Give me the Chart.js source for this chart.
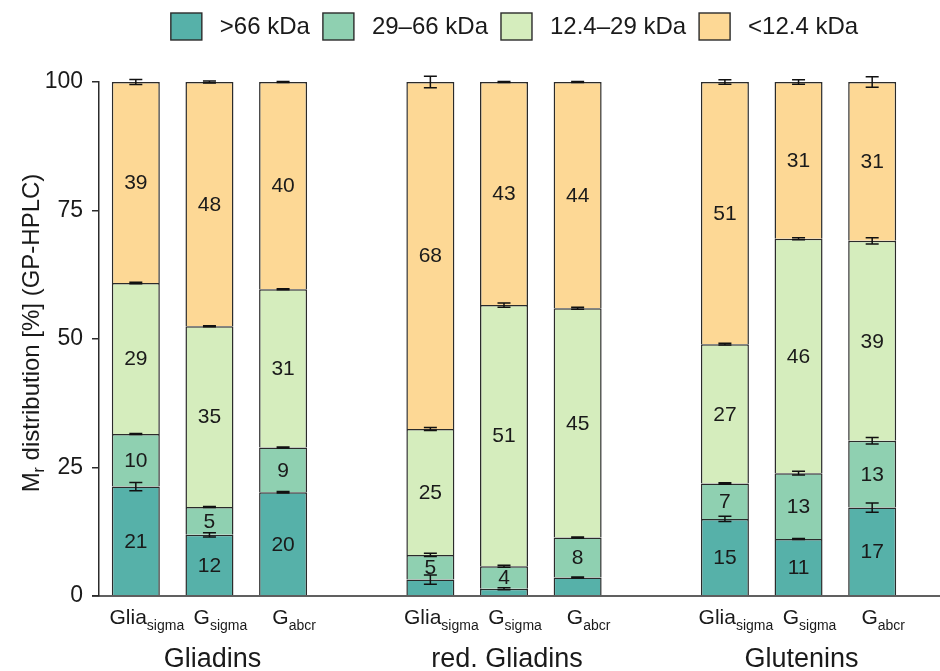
<!DOCTYPE html>
<html>
<head>
<meta charset="utf-8">
<title>Mr distribution (GP-HPLC)</title>
<script src="https://cdn.jsdelivr.net/npm/chart.js@4.4.1/dist/chart.umd.min.js"></script>
<style>
  html, body { margin: 0; padding: 0; background: #ffffff; }
  #wrap { width: 940px; height: 671px; }
</style>
</head>
<body>
<div id="wrap"><canvas id="chart" width="940" height="671"></canvas></div>
<script>
// Sample groups and the three samples within each group (name + subscript)
const groups = ['Gliadins', 'red. Gliadins', 'Glutenins'];
const sampleBase = ['Glia', 'G', 'G'];
const sampleSub = ['sigma', 'sigma', 'abcr'];

// Molecular-weight fractions (stack order, bottom to top)
const fractionNames = ['>66 kDa', '29\u201366 kDa', '12.4\u201329 kDa', '<12.4 kDa'];
const fractionColors = ['#56b1a9', '#8fd0b1', '#d5edbd', '#fdd895'];

// Share of each fraction [%], 9 samples: Gliadins x3, red. Gliadins x3, Glutenins x3
const above66 = [21.3, 11.9, 20.2, 3.2, 1.4, 3.6, 15.0, 11.1, 17.2];
const from29to66 = [10.2, 5.4, 8.7, 4.8, 4.4, 7.8, 6.9, 12.8, 13.0];
const from12to29 = [29.4, 35.2, 30.8, 24.5, 50.8, 44.6, 27.1, 45.6, 38.9];
const below12 = [39.1, 47.5, 40.3, 67.5, 43.4, 44.0, 51.0, 30.5, 30.9];

// Standard deviations of the cumulative fraction boundaries
const sdAbove66 = [0.8, 0.4, 0.15, 0.9, 0.2, 0.1, 0.5, 0.1, 0.9];
const sd29to66 = [0.1, 0.1, 0.1, 0.3, 0.2, 0.1, 0.15, 0.35, 0.65];
const sd12to29 = [0.15, 0.1, 0.1, 0.3, 0.4, 0.2, 0.15, 0.2, 0.6];
const sdBelow12 = [0.5, 0.2, 0.1, 1.1, 0.1, 0.1, 0.45, 0.45, 1.0];

// Y axis ticks
const yTicks = [0, 25, 50, 75, 100];

const fractionValues = [above66, from29to66, from12to29, below12];
const fractionSDs = [sdAbove66, sd29to66, sd12to29, sdBelow12];

// Category slots: three samples per group, one empty slot between groups
const slotSample = [];   // index into the 9 samples, or null for a spacer slot
groups.forEach((g, gi) => {
  for (let k = 0; k < 3; k++) slotSample.push(gi * 3 + k);
  if (gi < groups.length - 1) slotSample.push(null);
});
const slotLabels = slotSample.map(s => s === null ? '' : sampleBase[s % 3] + sampleSub[s % 3]);

const FONT = "'Liberation Sans', Arial, Helvetica, sans-serif";
const INK = '#1a1a1a';
const LINE = '#2b2b2b';

const datasets = fractionNames.map((name, i) => ({
  label: name,
  data: slotSample.map(s => s === null ? null : fractionValues[i][s]),
  backgroundColor: fractionColors[i],
  borderColor: LINE,
  borderWidth: 1.5,
  borderSkipped: 'start',
  barPercentage: 0.652,
  categoryPercentage: 1.0,
  stack: 'mr'
}));

const decorations = {
  id: 'decorations',
  afterDatasetsDraw(chart) {
    const ctx = chart.ctx;
    const ys = chart.scales.y;
    const area = chart.chartArea;
    const metas = chart.data.datasets.map((d, i) => chart.getDatasetMeta(i));

    ctx.save();

    // value labels inside the segments
    ctx.fillStyle = INK;
    ctx.font = '21px ' + FONT;
    ctx.textAlign = 'center';
    ctx.textBaseline = 'middle';
    metas.forEach((meta, i) => {
      meta.data.forEach((el, j) => {
        const v = chart.data.datasets[i].data[j];
        if (v === null || v < 4) return;
        ctx.fillText(String(Math.round(v)), el.x, (el.y + el.base) / 2 + 1);
      });
    });

    // error bars at each cumulative boundary
    ctx.strokeStyle = '#111111';
    ctx.lineWidth = 1.5;
    const cap = 6.5;
    slotSample.forEach((s, j) => {
      if (s === null) return;
      let cum = 0;
      for (let i = 0; i < fractionValues.length; i++) {
        cum += fractionValues[i][s];
        const sd = fractionSDs[i][s];
        const x = metas[i].data[j].x;
        const yHi = ys.getPixelForValue(cum + sd);
        const yLo = ys.getPixelForValue(cum - sd);
        ctx.beginPath();
        ctx.moveTo(x, yHi); ctx.lineTo(x, yLo);
        ctx.moveTo(x - cap, yHi); ctx.lineTo(x + cap, yHi);
        ctx.moveTo(x - cap, yLo); ctx.lineTo(x + cap, yLo);
        ctx.stroke();
      }
    });

    // x axis line, running to the right edge
    const y0 = ys.getPixelForValue(0);
    ctx.strokeStyle = LINE;
    ctx.lineWidth = 1.5;
    ctx.beginPath();
    ctx.moveTo(area.left - 7, y0);
    ctx.lineTo(chart.width, y0);
    ctx.stroke();

    // sample labels with subscripts
    ctx.fillStyle = INK;
    ctx.textBaseline = 'alphabetic';
    ctx.textAlign = 'left';
    slotSample.forEach((s, j) => {
      if (s === null) return;
      const x = metas[0].data[j].x + 11;
      const base = sampleBase[s % 3], sub = sampleSub[s % 3];
      ctx.font = '21px ' + FONT;
      const wb = ctx.measureText(base).width;
      ctx.font = '14px ' + FONT;
      const ws = ctx.measureText(sub).width;
      const x0 = x - (wb + ws) / 2;
      ctx.font = '21px ' + FONT;
      ctx.fillText(base, x0, 624);
      ctx.font = '14px ' + FONT;
      ctx.fillText(sub, x0 + wb, 630);
    });

    // group labels under the middle sample of each group
    ctx.font = '27px ' + FONT;
    ctx.textAlign = 'center';
    groups.forEach((g, gi) => {
      const j = slotSample.indexOf(gi * 3 + 1);
      ctx.fillText(g, metas[0].data[j].x + 3, 667);
    });

    // y axis title: M_r distribution [%] (GP-HPLC)
    const tMain = 'M', tSub = 'r', tRest = ' distribution [%] (GP-HPLC)';
    ctx.font = '24px ' + FONT;
    const w1 = ctx.measureText(tMain).width;
    const w3 = ctx.measureText(tRest).width;
    ctx.font = '16px ' + FONT;
    const w2 = ctx.measureText(tSub).width;
    const total = w1 + w2 + w3;
    ctx.translate(39, (area.top + area.bottom) / 2 - 6);
    ctx.rotate(-Math.PI / 2);
    ctx.textAlign = 'left';
    let tx = -total / 2;
    ctx.font = '24px ' + FONT;
    ctx.fillText(tMain, tx, 0);
    tx += w1;
    ctx.font = '16px ' + FONT;
    ctx.fillText(tSub, tx, 5);
    tx += w2;
    ctx.font = '24px ' + FONT;
    ctx.fillText(tRest, tx, 0);
    ctx.setTransform(1, 0, 0, 1, 0, 0);

    // legend
    const boxW = 31, boxH = 27, gapText = 18, gapItem = 13, legY = 26.5;
    ctx.font = '24px ' + FONT;
    const widths = fractionNames.map(n => ctx.measureText(n).width);
    const legW = widths.reduce((a, b) => a + b, 0) + fractionNames.length * (boxW + gapText) + (fractionNames.length - 1) * gapItem;
    let lx = (area.left + chart.width) / 2 - 5 - legW / 2;
    ctx.textBaseline = 'middle';
    ctx.textAlign = 'left';
    fractionNames.forEach((n, i) => {
      ctx.fillStyle = fractionColors[i];
      ctx.fillRect(lx, legY - boxH / 2, boxW, boxH);
      ctx.strokeStyle = LINE;
      ctx.lineWidth = 1.4;
      ctx.strokeRect(lx, legY - boxH / 2, boxW, boxH);
      lx += boxW + gapText;
      ctx.fillStyle = INK;
      ctx.fillText(n, lx, legY + 1);
      lx += widths[i] + gapItem;
    });

    ctx.restore();
  }
};

new Chart(document.getElementById('chart'), {
  type: 'bar',
  data: { labels: slotLabels, datasets },
  options: {
    responsive: false,
    devicePixelRatio: 1,
    animation: false,
    layout: { padding: { top: 82, right: 31, bottom: 75, left: 0 } },
    plugins: {
      legend: { display: false },
      tooltip: { enabled: false },
      title: { display: false }
    },
    scales: {
      x: {
        display: false,
        stacked: true
      },
      y: {
        stacked: true,
        min: 0,
        max: 100,
        afterFit(scale) { scale.width = 99; },
        afterBuildTicks(scale) { scale.ticks = yTicks.map(v => ({ value: v })); },
        ticks: {
          color: INK,
          padding: 9,
          font: { family: FONT, size: 23 }
        },
        grid: {
          drawOnChartArea: false,
          drawTicks: true,
          tickLength: 7,
          color: LINE,
          lineWidth: 1.5
        },
        border: { display: true, color: LINE, width: 1.5 }
      }
    }
  },
  plugins: [decorations]
});
</script>
</body>
</html>
